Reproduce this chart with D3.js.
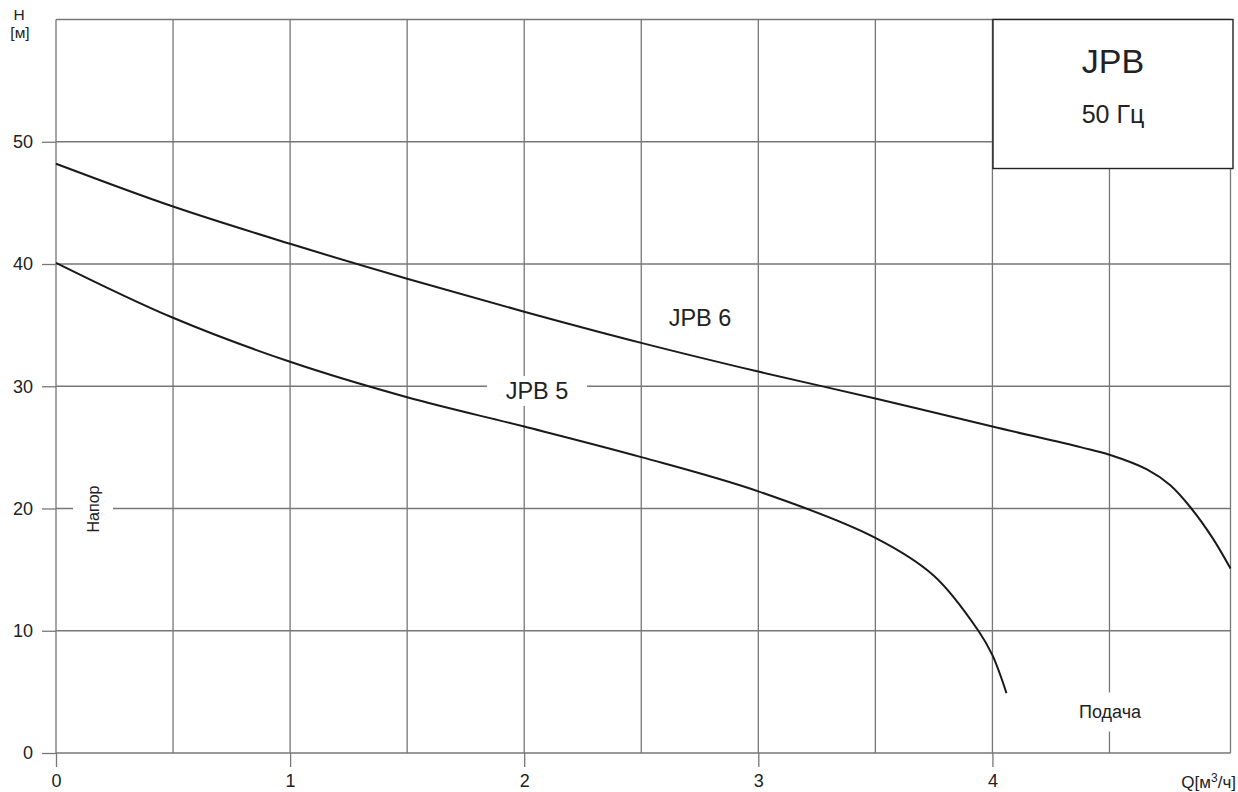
<!DOCTYPE html>
<html><head><meta charset="utf-8">
<script src="https://cdn.jsdelivr.net/npm/d3@7"></script>
<style>body{margin:0;background:#fff}svg{display:block}text{font-family:"Liberation Sans",Arial,Helvetica,sans-serif;fill:#222}</style>
</head><body><svg id="c" width="1238" height="792"></svg>
<script>
const xTicks = [0,1,2,3,4];
const yTicks = [0,10,20,30,40,50];
const xGrid = [0.5,1,1.5,2,2.5,3,3.5,4,4.5];
const jpb6Q = [0,0.5,1,1.5,2,2.5,3,3.5,4,4.38,4.5,4.66,4.76,4.85,4.94,5.017];
const jpb6H = [48.2,44.7,41.65,38.8,36.1,33.55,31.2,29.0,26.7,25.0,24.4,23.2,21.9,20.0,17.6,15.1];
const jpb5Q = [0,0.5,1,1.5,2,2.5,3,3.5,3.75,3.94,4.0,4.06];
const jpb5H = [40.1,35.6,32.0,29.1,26.7,24.2,21.4,17.6,14.5,10.0,8.0,4.9];
const title = "JPB", subtitle = "50 Гц";

const svg = d3.select("#c");
const x = d3.scaleLinear().domain([0,5.017]).range([56,1230.5]);
const y = d3.scaleLinear().domain([0,60]).range([753,19.5]);
const gridCol = "#777";

// grid
const g = svg.append("g");
g.selectAll(".vg").data(xGrid).join("line")
  .attr("x1",d=>x(d)).attr("x2",d=>x(d)).attr("y1",y(0)).attr("y2",y(60))
  .attr("stroke",gridCol).attr("stroke-width",1.3);
g.selectAll(".hg").data(yTicks.concat([60])).join("line")
  .attr("x1",x(0)).attr("x2",x(5.017)).attr("y1",d=>y(d)).attr("y2",d=>y(d))
  .attr("stroke",gridCol).attr("stroke-width",1.3);
[0,5.017].forEach(v=>g.append("line").attr("x1",x(v)).attr("x2",x(v)).attr("y1",y(0)).attr("y2",y(60)).attr("stroke",gridCol).attr("stroke-width",1.3));

// axes with outward ticks
const xa = svg.append("g").attr("transform",`translate(0,${y(0)})`)
  .call(d3.axisBottom(x).tickValues(xTicks).tickSize(14).tickPadding(7).tickFormat(d3.format("d")));
const ya = svg.append("g").attr("transform",`translate(${x(0)},0)`)
  .call(d3.axisLeft(y).tickValues(yTicks).tickSize(14).tickPadding(9).tickFormat(d3.format("d")));
[xa,ya].forEach(a=>{a.select(".domain").remove();
  a.selectAll("line").attr("stroke",gridCol).attr("stroke-width",1.3);
  a.selectAll("text").attr("font-size",18).attr("fill","#222").style("font-family","Liberation Sans, Arial, sans-serif");});

// curves
const line = d3.line().x(d=>x(d[0])).y(d=>y(d[1])).curve(d3.curveCatmullRom.alpha(0.5));
svg.append("path").datum(d3.zip(jpb6Q,jpb6H)).attr("d",line).attr("fill","none").attr("stroke","#1a1a1a").attr("stroke-width",2);
svg.append("path").datum(d3.zip(jpb5Q,jpb5H)).attr("d",line).attr("fill","none").attr("stroke","#1a1a1a").attr("stroke-width",2);

// labels with white knockouts
function label(txt, cx, cy, w, h, fs, rot){
  const gg = svg.append("g").attr("transform",`translate(${cx},${cy})${rot?` rotate(${rot})`:""}`);
  gg.append("rect").attr("x",-w/2).attr("y",-h/2).attr("width",w).attr("height",h).attr("fill","#fff");
  gg.append("text").attr("text-anchor","middle").attr("dy","0.35em").attr("font-size",fs).text(txt);
}
label("JPB 5", 537, 391, 100, 30, 23.5);
label("JPB 6", 700, 318, 80, 28, 23.5);
label("Напор", 93, 509, 42, 40, 16, -90);
label("Подача", 1110, 712, 76, 39, 18);

// legend box
svg.append("rect").attr("x",993).attr("y",19.5).attr("width",240).attr("height",149)
  .attr("fill","#fff").attr("stroke","#222").attr("stroke-width",1.4);
svg.append("text").attr("x",1113).attr("y",73).attr("text-anchor","middle").attr("font-size",34).text(title);
svg.append("text").attr("x",1113).attr("y",123).attr("text-anchor","middle").attr("font-size",25).text(subtitle);

// axis titles
svg.append("text").attr("x",19).attr("y",20).attr("text-anchor","middle").attr("font-size",15.5).text("H");
svg.append("text").attr("x",20).attr("y",38).attr("text-anchor","middle").attr("font-size",15.5).text("[м]");
const qt = svg.append("text").attr("x",1236).attr("y",788).attr("text-anchor","end").attr("font-size",17);
qt.append("tspan").text("Q[м");
qt.append("tspan").attr("font-size",12).attr("dy",-6).text("3");
qt.append("tspan").attr("dy",6).text("/ч]");
</script></body></html>
